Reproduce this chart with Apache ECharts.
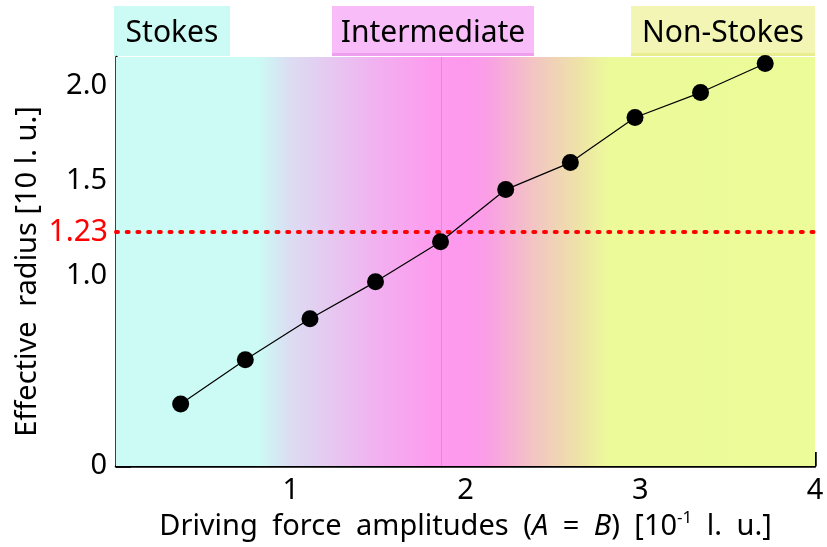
<!DOCTYPE html>
<html><head><meta charset="utf-8">
<script src="https://cdn.jsdelivr.net/npm/echarts@6/dist/echarts.min.js"></script>
<style>html,body{margin:0;padding:0;background:#fff}#c{width:827px;height:547px}</style>
</head><body><div id="c"></div>
<script>
// Data
const amplitudes = [0.37, 0.74, 1.11, 1.485, 1.857, 2.23, 2.60, 2.97, 3.345, 3.715];
const radii = [0.326, 0.558, 0.774, 0.968, 1.179, 1.453, 1.595, 1.832, 1.963, 2.116];
const thresholdRadius = 1.23;
const transitionAmplitude = 1.857;
const xTicks = [1, 2, 3, 4];
const yTicks = [0, 0.5, 1, 1.5, 2];
const yLabels = [0, 1, 1.5, 2];
const regimes = ['Stokes', 'Intermediate', 'Non-Stokes'];

const FONT = '"Noto Sans", sans-serif';
const SP = '\u2002';
const chart = echarts.init(document.getElementById('c'));

const bgGrad = new echarts.graphic.LinearGradient(0, 0, 1, 0, [
  {offset: 0, color: '#ccfaf4'},
  {offset: 0.205, color: '#ccfaf4'},
  {offset: 0.25, color: '#dcdcf2'},
  {offset: 0.375, color: '#f2b0f0'},
  {offset: 0.45, color: '#fd9cee'},
  {offset: 0.5, color: '#fe99ee'},
  {offset: 0.53, color: '#fa9ee6'},
  {offset: 0.6, color: '#f2c6c2'},
  {offset: 0.665, color: '#eee4a6'},
  {offset: 0.705, color: '#ecfa9a'},
  {offset: 1, color: '#ecfc98'}
]);

const option = {
  animation: false,
  grid: {left: 116, right: 12, top: 57, bottom: 81, outerBoundsMode: 'none', containLabel: false},
  xAxis: {
    type: 'value', min: 0, max: 4, interval: 1,
    name: '{a|Driving' + SP + 'force' + SP + 'amplitudes' + SP + '(}{i|A}{a|' + SP + '=' + SP + '}{i|B}{a|)' + SP + '[10}{s|-1}{a|' + SP + 'l.' + SP + 'u.]}',
    nameLocation: 'middle', nameGap: 44,
    nameTextStyle: {
      rich: {
        a: {fontFamily: FONT, fontSize: 29, color: '#000'},
        i: {fontFamily: FONT, fontSize: 29, color: '#000', fontStyle: 'italic'},
        s: {fontFamily: FONT, fontSize: 17, color: '#000', padding: [0, 0, 16, 0]}
      }
    },
    axisLine: {show: true, lineStyle: {color: '#000', width: 2.5}},
    axisTick: {show: true, inside: true, length: 14, lineStyle: {color: '#000', width: 2.5}, customValues: xTicks},
    axisLabel: {fontFamily: FONT, fontSize: 29, color: '#000', margin: 10, customValues: xTicks},
    splitLine: {show: false}
  },
  yAxis: {
    type: 'value', min: 0, max: 2.15, interval: 0.5,
    name: 'Effective' + SP + 'radius [10 l. u.]',
    nameLocation: 'middle', nameGap: 74,
    nameTextStyle: {fontFamily: FONT, fontSize: 29, color: '#000', padding: [0, 20, 0, 0]},
    axisLine: {show: true, lineStyle: {color: '#000', width: 2.5}},
    axisTick: {show: true, inside: true, length: 15, lineStyle: {color: '#000', width: 2.5}, customValues: yTicks},
    axisLabel: {
      fontFamily: FONT, fontSize: 29, color: '#000', margin: 9, customValues: yLabels,
      formatter: v => v === 0 ? '0' : v.toFixed(1)
    },
    splitLine: {show: false}
  },
  series: [
    {
      type: 'line',
      data: amplitudes.map((x, i) => [x, radii[i]]),
      symbol: 'circle', symbolSize: 17,
      itemStyle: {color: '#000'},
      lineStyle: {color: '#000', width: 1.2},
      z: 5,
      markArea: {
        silent: true,
        itemStyle: {color: bgGrad},
        data: [[{xAxis: 0, yAxis: 0}, {xAxis: 4, yAxis: 2.15}]]
      },
      markLine: {
        silent: true, symbol: 'none', z: 3,
        data: [
          {
            xAxis: transitionAmplitude,
            lineStyle: {color: '#f07fe6', width: 1, type: 'solid'},
            label: {show: false}
          },
          {
            yAxis: thresholdRadius,
            lineStyle: {color: '#ff0000', width: 4, type: [2, 8.7], cap: 'round'},
            label: {
              show: true, position: 'start', formatter: String(thresholdRadius),
              color: '#ff0000', fontFamily: FONT, fontSize: 30, distance: 8
            }
          }
        ]
      }
    }
  ],
  graphic: [
    {type: 'rect', left: 114, top: 6, shape: {width: 116, height: 50}, style: {fill: '#ccfaf4'}},
    {type: 'text', x: 172, y: 33, style: {text: regimes[0], fontFamily: FONT, fontSize: 30, fill: '#000', textAlign: 'center', textVerticalAlign: 'middle'}},
    {type: 'rect', left: 332, top: 6, shape: {width: 202, height: 50}, style: {fill: '#f8bdf8'}},
    {type: 'rect', left: 332, top: 53, shape: {width: 202, height: 3}, style: {fill: '#eea0ee'}},
    {type: 'text', x: 433, y: 33, style: {text: regimes[1], fontFamily: FONT, fontSize: 30, fill: '#000', textAlign: 'center', textVerticalAlign: 'middle'}},
    {type: 'rect', left: 631, top: 6, shape: {width: 184, height: 50}, style: {fill: '#f2f5b3'}},
    {type: 'rect', left: 631, top: 53, shape: {width: 184, height: 3}, style: {fill: '#e8ee90'}},
    {type: 'text', x: 723, y: 33, style: {text: regimes[2], fontFamily: FONT, fontSize: 30, fill: '#000', textAlign: 'center', textVerticalAlign: 'middle'}}
  ]
};
chart.setOption(option);
</script>
</body></html>
